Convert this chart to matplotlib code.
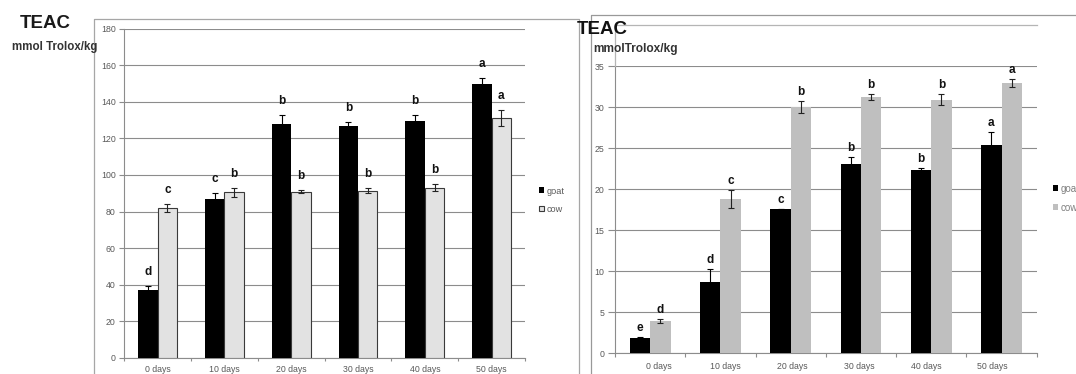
import numpy as np
import matplotlib
matplotlib.use('Agg')
import matplotlib.pyplot as plt
from matplotlib.lines import Line2D
from matplotlib.transforms import ScaledTranslation

plt.rcParams['font.family'] = ['Liberation Sans', 'DejaVu Sans']

# data
days = ['0 days', '10 days', '20 days', '30 days', '40 days', '50 days']

# left panel
goat_left = [37, 87, 128, 126.8, 129.3, 149.6]
goat_left_err = [2, 3, 4.6, 2.2, 3.7, 3.3]
cow_left = [81.8, 90.5, 90.9, 91.5, 93.1, 131.3]
cow_left_err = [2.3, 2.3, 1, 1.3, 1.8, 4.4]
goat_left_letters = ['d', 'c', 'b', 'b', 'b', 'a']
cow_left_letters = ['c', 'b', 'b', 'b', 'b', 'a']

# right panel
goat_right = [1.83, 8.67, 17.62, 23.04, 22.3, 25.36]
goat_right_err = [0.12, 1.6, 0, 0.93, 0.25, 1.6]
cow_right = [3.95, 18.84, 30.04, 31.26, 30.93, 32.93]
cow_right_err = [0.25, 1.06, 0.77, 0.33, 0.7, 0.5]
goat_right_letters = ['e', 'd', 'c', 'b', 'b', 'a']
cow_right_letters = ['d', 'c', 'b', 'b', 'b', 'a']

W, H = 1076, 374
fig = plt.figure(figsize=(W / 100, H / 100), dpi=100)


def fx(x):
    return x / W


def fy(y):
    return 1 - y / H


def fline(xs, ys, color='#a6a6a6', lw=0.9):
    fig.add_artist(Line2D([fx(v) for v in xs], [fy(v) for v in ys],
                          transform=fig.transFigure, color=color, lw=lw))


tick_gray = '#595959'
grid_gray = '#8c8c8c'
w = 0.29
x = np.arange(len(days))


def panel(ax, goat, goat_err, cow, cow_err, gl, cl, ymax, ystep, cow_color,
          cow_edge, letter_off, ylen, xpad):
    ax.bar(x - w / 2, goat, w, color='black', label='goat', zorder=3)
    ax.bar(x + w / 2, cow, w, color=cow_color, edgecolor=cow_edge,
           linewidth=0.8 if cow_edge != 'none' else 0, label='cow', zorder=3)
    ax.errorbar(x - w / 2, goat, yerr=goat_err, fmt='none', ecolor='black',
                elinewidth=0.8, capsize=2.2, capthick=0.8, zorder=4)
    ax.errorbar(x + w / 2, cow, yerr=cow_err, fmt='none', ecolor='#222222',
                elinewidth=0.8, capsize=2.2, capthick=0.8, zorder=4)
    for i in range(len(days)):
        ax.annotate(gl[i], (x[i] - w / 2, goat[i] + goat_err[i]),
                    xytext=(0, letter_off), textcoords='offset points',
                    ha='center', va='baseline', fontsize=8.5,
                    fontweight='bold', color='#111111')
        ax.annotate(cl[i], (x[i] + w / 2, cow[i] + cow_err[i]),
                    xytext=(0, letter_off), textcoords='offset points',
                    ha='center', va='baseline', fontsize=8.5,
                    fontweight='bold', color='#111111')
    ax.set_xlim(-0.5, len(days) - 0.5)
    ax.set_ylim(0, ymax)
    ax.set_yticks(np.arange(0, ymax + 1, ystep))
    ax.set_xticks(x)
    ax.set_xticklabels(days)
    ax.set_xticks(np.arange(-0.5, len(days)), minor=True)
    ax.tick_params(axis='x', which='major', length=0, pad=xpad,
                   labelsize=6.3, labelcolor=tick_gray)
    ax.tick_params(axis='x', which='minor', length=2.5, color=grid_gray,
                   width=0.8)
    ax.tick_params(axis='y', length=ylen, color=grid_gray, width=0.8,
                   pad=2.5, labelsize=6.3, labelcolor=tick_gray)
    ax.yaxis.grid(True, color=grid_gray, lw=0.8, zorder=0)
    ax.set_axisbelow(True)
    for s in ['top', 'right']:
        ax.spines[s].set_visible(False)
    for s in ['left', 'bottom']:
        ax.spines[s].set_color(grid_gray)
        ax.spines[s].set_linewidth(0.8)


axL = fig.add_axes([fx(124.3), fy(357.7), (525 - 124.3) / W, (357.7 - 28.8) / H])
panel(axL, goat_left, goat_left_err, cow_left, cow_left_err,
      goat_left_letters, cow_left_letters, 180, 20, '#e2e2e2', '#3a3a3a', 8, 3.6,
      5.5)

axR = fig.add_axes([fx(615), fy(353.3), (1036.7 - 615) / W, (353.3 - 66.3) / H])
panel(axR, goat_right, goat_right_err, cow_right, cow_right_err,
      goat_right_letters, cow_right_letters, 35, 5, '#bfbfbf', 'none', 4.3, 5,
      6.5)
axR.tick_params(axis='x', which='minor', length=3)

# right panel's day labels sit on a slightly tighter spacing than its bars
for i, lab in enumerate(axR.get_xticklabels()):
    lab.set_transform(lab.get_transform() +
                      ScaledTranslation((9 - 3.6 * i) / 100, 0, fig.dpi_scale_trans))

# legends
legL = fig.legend(*axL.get_legend_handles_labels(), loc='upper left',
                  bbox_to_anchor=(fx(539), fy(186.5)), frameon=False,
                  fontsize=6.6, handlelength=0.55, handleheight=0.55,
                  handletextpad=0.25, labelspacing=1.0, borderpad=0,
                  borderaxespad=0)
for t in legL.get_texts():
    t.set_color(tick_gray)
legR = fig.legend(*axR.get_legend_handles_labels(), loc='upper left',
                  bbox_to_anchor=(fx(1053), fy(183.5)), frameon=False,
                  fontsize=7, handlelength=0.55, handleheight=0.55,
                  handletextpad=0.25, labelspacing=0.95, borderpad=0,
                  borderaxespad=0)
for t in legR.get_texts():
    t.set_color('#7f7f7f')

# chart frames
fline([93.5, 93.5, 579, 579], [374, 18.5, 18.5, 374])
fline([590.5, 590.5, 1076], [374, 14.7, 14.7], color='#999999')
fline([615, 615, 1036.7], [66.3, 25, 25], color='#b5b5b5')

# titles
fig.text(fx(20), fy(24), 'TEAC', fontsize=13.5, fontweight='bold',
         va='center', ha='left', color='#1a1a1a')
fig.text(fx(12), fy(47), 'mmol Trolox/kg', fontsize=8.3, fontweight='bold',
         va='center', ha='left', color='#333333')
fig.text(fx(577), fy(29), 'TEAC', fontsize=13.5, fontweight='bold',
         va='center', ha='left', color='#111111')
fig.text(fx(593), fy(49), 'mmolTrolox/kg', fontsize=8.6, fontweight='bold',
         va='center', ha='left', color='#333333')

fig.savefig('out.png', dpi=100)
